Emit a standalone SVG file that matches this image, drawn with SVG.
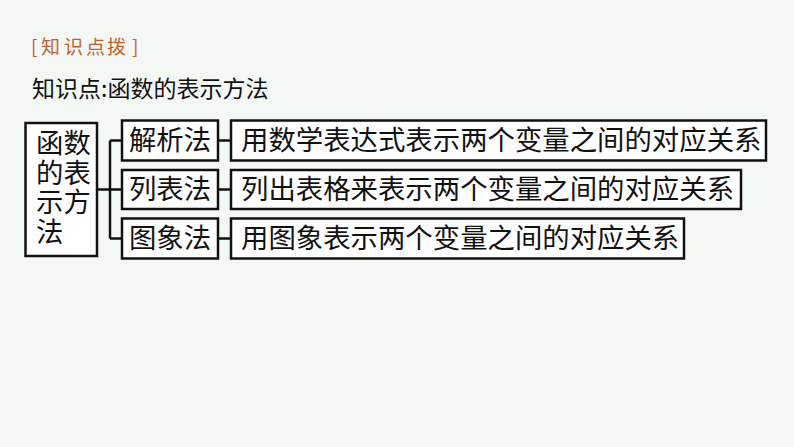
<svg xmlns="http://www.w3.org/2000/svg" width="794" height="447" viewBox="0 0 794 447">
<style>
.bg{fill:#f4f8f5}
.box{fill:#ffffff;stroke:#111111;stroke-width:2.5}
.ln{fill:none;stroke:#111111;stroke-width:2.5}
.t{font-family:"Noto Sans CJK SC","Noto Sans",sans-serif;font-size:27.4px;fill:#111111}
.h{font-family:"Noto Sans CJK SC","Noto Sans",sans-serif;font-size:23px;fill:#111111}
.tag{font-family:"Noto Sans CJK SC","Noto Sans",sans-serif;font-size:19px;fill:#c0602c}
</style>
<rect class="bg" x="0" y="0" width="794" height="447"/>
<text class="tag" x="31 41 64 86 107 132" y="54">[知识点拨]</text>
<text class="h" x="32" y="97">知识点:函数的表示方法</text>
<g id="connectors">
<path class="ln" d="M97 189.5 H110 M110 140.5 V238.5 M110 140.5 H122 M110 189.5 H122 M110 238.5 H122"/>
<path class="ln" d="M218 140.5 H231 M218 189.5 H231 M218 238.5 H231"/>
</g>
<g id="root">
<rect class="box" x="25.5" y="123" width="71.5" height="133"/>
<text class="t" x="36" y="153">函数<tspan x="36" y="182.5">的表</tspan><tspan x="36" y="212">示方</tspan><tspan x="36" y="242">法</tspan></text>
</g>
<g id="m1">
<rect class="box" x="122" y="120.5" width="96" height="40"/>
<text class="t" x="170" y="150" text-anchor="middle">解析法</text>
</g>
<g id="m2">
<rect class="box" x="122" y="170" width="96" height="39"/>
<text class="t" x="170" y="199" text-anchor="middle">列表法</text>
</g>
<g id="m3">
<rect class="box" x="122" y="218.5" width="96" height="40"/>
<text class="t" x="170" y="248" text-anchor="middle">图象法</text>
</g>
<g id="r1">
<rect class="box" x="231" y="120.5" width="535" height="40"/>
<text class="t" x="241" y="150">用数学表达式表示两个变量之间的对应关系</text>
</g>
<g id="r2">
<rect class="box" x="231" y="170" width="510" height="39"/>
<text class="t" x="241" y="199">列出表格来表示两个变量之间的对应关系</text>
</g>
<g id="r3">
<rect class="box" x="231" y="218.5" width="453" height="40"/>
<text class="t" x="241" y="248">用图象表示两个变量之间的对应关系</text>
</g>
</svg>
